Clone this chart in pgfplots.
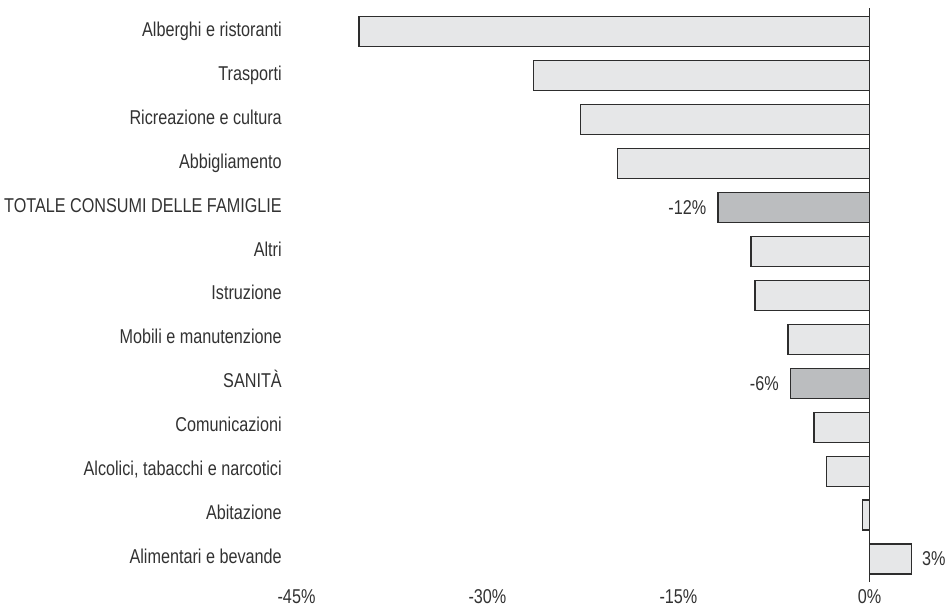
\documentclass[border=0pt]{standalone}
\usepackage{fontspec}
\setmainfont{Liberation Sans}[FakeStretch=0.81]
\usepackage{pgfplots}
\pgfplotsset{compat=1.18}
\usetikzlibrary{calc}

\definecolor{barlight}{RGB}{230,231,232}
\definecolor{bardark}{RGB}{187,189,191}
\definecolor{edge}{RGB}{45,45,45}
\definecolor{txt}{RGB}{50,50,50}

\newcommand{\lblfont}{\fontsize{15}{18}\selectfont}

\begin{document}
\begin{tikzpicture}
\begin{axis}[
  name=ax,
  scale only axis,
  width=477.5pt, height=430.5pt,
  xmin=-45, xmax=5,
  ymin=-0.53, ymax=12.53,
  y dir=reverse,
  axis line style={draw=none},
  major tick length=0pt,
  xtick={-45,-30,-15,0},
  xticklabels={-45\%,-30\%,-15\%,0\%},
  ytick={0,...,12},
  yticklabels={Alberghi e ristoranti, Trasporti, Ricreazione e cultura,
    Abbigliamento, TOTALE CONSUMI DELLE FAMIGLIE, Altri, Istruzione,
    Mobili e manutenzione, SANITÀ, Comunicazioni,
    {Alcolici, tabacchi e narcotici}, Abitazione, Alimentari e bevande},
  tick label style={font=\lblfont, text=txt},
  yticklabel style={anchor=mid east, inner sep=0pt, xshift=-10.9pt, yshift=-0.8pt},
  xticklabel style={anchor=center, inner sep=0pt, yshift=-11pt},
  xbar, bar shift=0pt, bar width=0.683,
  clip=false,
]
% ordinary categories
\addplot[fill=barlight, draw=edge, line width=1pt] coordinates {
  (-40.1,0) (-26.4,1) (-22.7,2) (-19.8,3)
  (-9.3,5) (-9.0,6) (-6.4,7)
  (-4.35,9) (-3.4,10) (-0.55,11)
};
% highlighted totals, labelled on the left
\addplot[fill=bardark, draw=edge, line width=1pt,
  point meta=x,
  nodes near coords={\pgfmathprintnumber[fixed,precision=0,assume math mode=true]{\pgfplotspointmeta}\%},
  nodes near coords style={anchor=east, font=\lblfont, text=txt, inner sep=0pt, xshift=-8.3pt},
] coordinates {(-11.9,4) (-6.2,8)};
% the only positive change, labelled on the right
\addplot[fill=barlight, draw=edge, line width=1pt,
  point meta=x,
  nodes near coords={\pgfmathprintnumber[fixed,precision=0,assume math mode=true]{\pgfplotspointmeta}\%},
  nodes near coords style={anchor=west, font=\lblfont, text=txt, inner sep=0pt, xshift=7.5pt},
] coordinates {(3.3,12)};
% zero line
\draw[edge, line width=1pt] (axis cs:0,-0.53) -- (axis cs:0,12.53);
\end{axis}
\pgfresetboundingbox
\path[use as bounding box] ($(ax.south west)+(-222.4pt,-19.2pt)$) rectangle ($(ax.south west)+(489.4pt,436.8pt)$);
\end{tikzpicture}
\end{document}
